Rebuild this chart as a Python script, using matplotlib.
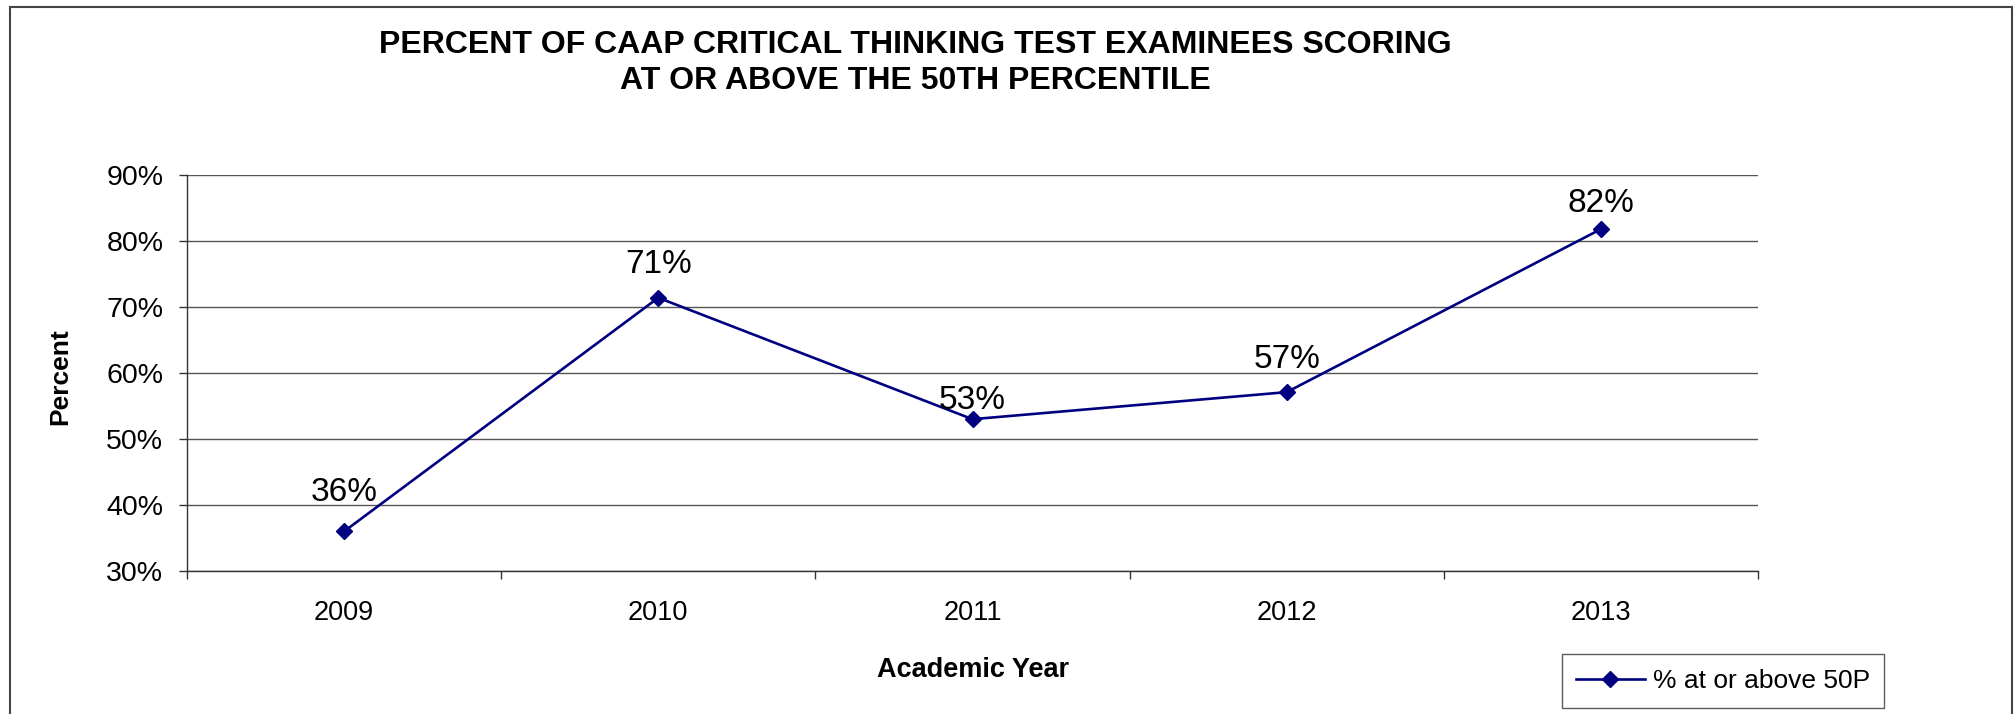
import matplotlib
matplotlib.use("Agg")
import matplotlib.pyplot as plt
from matplotlib.patches import Rectangle

plt.rcParams['font.family'] = ['Liberation Sans', 'DejaVu Sans']

years = ["2009", "2010", "2011", "2012", "2013"]
pct = [36.0, 71.4, 53.0, 57.1, 81.8]
labels = ["36%", "71%", "53%", "57%", "82%"]
yticks = [30, 40, 50, 60, 70, 80, 90]

# label lift above each point (points), as placed in the original
label_lift = [22, 17.5, 7.5, 17.5, 12]

fig = plt.figure(figsize=(20.15, 7.14), dpi=100)
ax = fig.add_axes([187 / 2015, 1 - 571 / 714, (1758 - 187) / 2015, (571 - 175) / 714])

x = list(range(len(years)))
ax.plot(x, pct, color="#000080", lw=1.9, marker="D", markersize=8.5,
        label="% at or above 50P", zorder=3)

for xi, v, s, d in zip(x, pct, labels, label_lift):
    ax.annotate(s, (xi, v), xytext=(0, d), textcoords="offset points",
                ha="center", va="baseline", fontsize=24)

ax.set_xlim(-0.5, len(years) - 0.5)
ax.set_ylim(30, 90)
ax.set_yticks(yticks)
ax.set_yticklabels([f"{t}%" for t in yticks], fontsize=20.5)
ax.set_xticks(x)
ax.set_xticklabels(years, fontsize=19.5)
ax.set_xticks([i - 0.5 for i in range(len(years) + 1)], minor=True)
ax.tick_params(axis="x", which="major", length=0, pad=21)
ax.tick_params(axis="x", which="minor", length=6, width=1, direction="out", color="#333333")
ax.tick_params(axis="y", length=6, width=1, direction="out", pad=11, color="#333333")

ax.yaxis.grid(True, color="#555555", lw=1)
ax.set_axisbelow(True)
for side in ("top", "right"):
    ax.spines[side].set_visible(False)
for side in ("left", "bottom"):
    ax.spines[side].set_color("#333333")
    ax.spines[side].set_linewidth(1)

fig.text(60 / 2015, 1 - 377 / 714, "Percent", rotation=90, ha="center", va="center",
         fontsize=19, fontweight="bold")
fig.text(973 / 2015, 1 - 670 / 714, "Academic Year", ha="center", va="center",
         fontsize=19.5, fontweight="bold")
fig.text(915 / 2015, 1 - 63 / 714,
         "PERCENT OF CAAP CRITICAL THINKING TEST EXAMINEES SCORING\nAT OR ABOVE THE 50TH PERCENTILE",
         ha="center", va="center", fontsize=23, fontweight="bold", linespacing=1.3)

leg = ax.legend(loc="center", bbox_to_anchor=(1723 / 2015, 1 - 681 / 714),
                bbox_transform=fig.transFigure, fontsize=19, frameon=True,
                fancybox=False, edgecolor="#333333", handlelength=2.6,
                borderpad=0.55, handletextpad=0.3)
leg.get_frame().set_linewidth(1)

fig.patches.append(Rectangle((10 / 2015, -0.01), (2012 - 10) / 2015, 1 - 7 / 714 + 0.01,
                             transform=fig.transFigure, fill=False,
                             edgecolor="#444444", lw=1.5))

fig.savefig("out.png", dpi=100)
